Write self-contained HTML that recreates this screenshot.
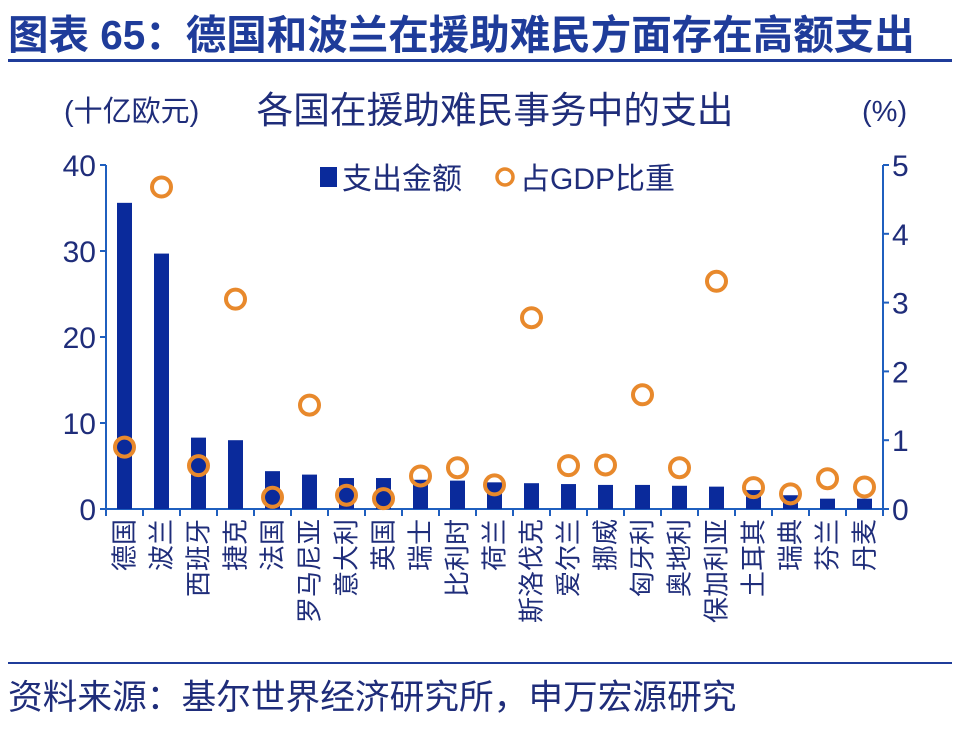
<!DOCTYPE html>
<html><head><meta charset="utf-8"><style>
body{margin:0;background:#fff;}
svg text{font-family:"Liberation Sans","Noto Sans CJK SC",sans-serif;}
</style></head><body>
<svg width="960" height="728" viewBox="0 0 960 728" xmlns="http://www.w3.org/2000/svg">
<text x="8" y="49" font-size="40.5" font-weight="bold" fill="#1F3C9A">图表 65：德国和波兰在援助难民方面存在高额支出</text>
<rect x="8" y="59" width="944" height="3" fill="#1F3C9A"/>
<rect x="8" y="662" width="944" height="2" fill="#1F3C9A"/>
<text x="8" y="709" font-size="34.7" fill="#1F2D7A">资料来源：基尔世界经济研究所，申万宏源研究</text>
<text x="495" y="123" font-size="36.7" fill="#1F2D7A" text-anchor="middle">各国在援助难民事务中的支出</text>
<text x="64" y="121" font-size="29" fill="#1F2D7A">(十亿欧元)</text>
<text x="862" y="121" font-size="29" fill="#1F2D7A">(%)</text>
<rect x="320" y="167" width="17" height="20" fill="#0A2A9B"/>
<text x="342" y="189" font-size="30" fill="#1F2D7A">支出金额</text>
<circle cx="505" cy="177" r="8" fill="none" stroke="#E8892C" stroke-width="3.5"/>
<text x="520" y="189" font-size="30" fill="#1F2D7A">占GDP比重</text>
<g id="plot"></g>
</svg>
<script>
const categories=["德国","波兰","西班牙","捷克","法国","罗马尼亚","意大利","英国","瑞士","比利时","荷兰","斯洛伐克","爱尔兰","挪威","匈牙利","奥地利","保加利亚","土耳其","瑞典","芬兰","丹麦"];
const spending=[35.6,29.7,8.3,8.0,4.4,4.0,3.6,3.6,3.4,3.3,3.1,3.0,2.9,2.8,2.8,2.7,2.6,2.2,1.6,1.2,1.2];
const gdpShare=[0.90,4.68,0.63,3.05,0.17,1.51,0.20,0.15,0.48,0.60,0.35,2.78,0.63,0.64,1.66,0.60,3.31,0.31,0.22,0.44,0.32];
const leftTicks=[0,10,20,30,40];
const rightTicks=[0,1,2,3,4,5];
const NS="http://www.w3.org/2000/svg";
const g=document.getElementById('plot');
const x0=106,x1=883,y0=509,yTop=165;
const step=(x1-x0)/categories.length;
const yL=v=>y0-(y0-yTop)*v/40;
const yR=v=>y0-(y0-yTop)*v/5;
const xC=i=>x0+step*(i+0.5);
function mk(t,a){const e=document.createElementNS(NS,t);for(const k in a)e.setAttribute(k,a[k]);g.appendChild(e);return e;}
let e;
e=mk('line',{x1:x0,y1:yTop,x2:x0,y2:y0,stroke:'#1F5FBF','stroke-width':2});


e=mk('line',{x1:x1,y1:yTop,x2:x1,y2:y0,stroke:'#1F5FBF','stroke-width':2});


e=mk('line',{x1:x0,y1:y0,x2:x1,y2:y0,stroke:'#1F5FBF','stroke-width':2});


leftTicks.forEach(v=>{
 e=mk('line',{x1:x0-6,y1:yL(v),x2:x0,y2:yL(v),stroke:'#1F5FBF','stroke-width':2});
 
 
 e=mk('text',{x:x0-10,y:yL(v)+11,'font-size':30,fill:'#1F2D7A','text-anchor':'end'});
 e.textContent=v;
 
 
});
rightTicks.forEach(v=>{
 e=mk('line',{x1:x1,y1:yR(v),x2:x1+6,y2:yR(v),stroke:'#1F5FBF','stroke-width':2});
 
 
 e=mk('text',{x:x1+9,y:yR(v)+11,'font-size':30,fill:'#1F2D7A'});
 e.textContent=v;
 
 
});
for(let i=0;i<=categories.length;i++){
 e=mk('line',{x1:x0+step*i,y1:y0,x2:x0+step*i,y2:y0+7,stroke:'#1F5FBF','stroke-width':2});
 
 
}
categories.forEach((c,i)=>{
 const bw=15;
 e=mk('rect',{x:xC(i)-bw/2,y:yL(spending[i]),width:bw,height:y0-yL(spending[i]),fill:'#0A2A9B'});
 
 
 e=mk('text',{x:0,y:0,'font-size':26,fill:'#1F2D7A','text-anchor':'end',transform:`translate(${xC(i)+9},519) rotate(-90)`});
 e.textContent=c;
 
 
});
categories.forEach((c,i)=>{
 e=mk('circle',{cx:xC(i),cy:yR(gdpShare[i]),r:9.5,fill:'none',stroke:'#E8892C','stroke-width':4});
 
 
});
</script>
</body></html>
